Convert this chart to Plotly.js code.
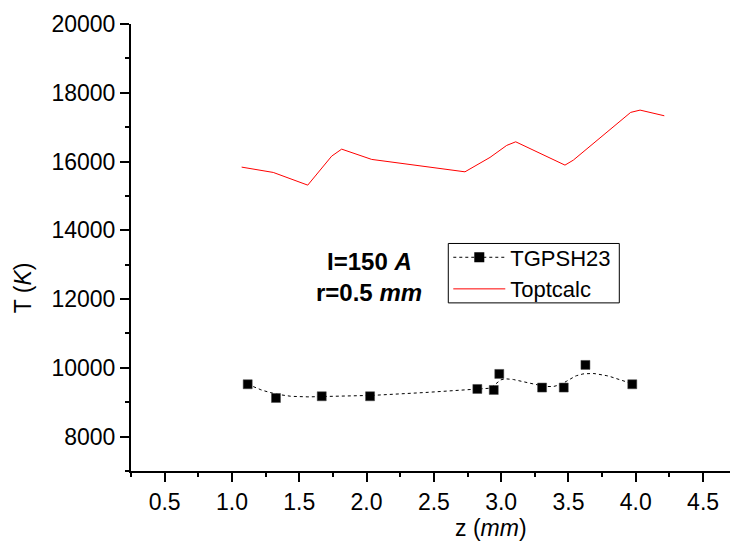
<!DOCTYPE html>
<html>
<head>
<meta charset="utf-8">
<script src="https://cdn.plot.ly/plotly-3.0.1.min.js"></script>
<style>html,body{margin:0;padding:0;background:#fff;}#chart{width:730px;height:545px;}</style>
</head>
<body>
<div id="chart"></div>
<script>
// Measured data: TGPSH23 (black squares)
const zMeas = [1.117, 1.327, 1.667, 2.026, 2.823, 2.945, 2.986, 3.304, 3.465, 3.626, 3.974];
const tMeas = [9523, 9124, 9174, 9174, 9386, 9357, 9823, 9427, 9427, 10085, 9523];
// Calculated: Toptcalc (red line)
const zCalc = [1.072, 1.307, 1.563, 1.741, 1.815, 2.038, 2.731, 2.917, 3.041, 3.108, 3.474, 3.536, 3.962, 4.032, 4.212];
const tCalc = [15838, 15683, 15314, 16158, 16361, 16062, 15701, 16120, 16469, 16574, 15896, 16041, 17429, 17496, 17331];
const xTicks = [0.5, 1.0, 1.5, 2.0, 2.5, 3.0, 3.5, 4.0, 4.5];
const xTickText = ["0.5", "1.0", "1.5", "2.0", "2.5", "3.0", "3.5", "4.0", "4.5"];

// Clamped cubic B-spline through the data as control points (Origin "B-spline" connect)
function bspline(xs, ys, samples) {
  const n = xs.length, p = 3, m = n - p;
  const U = [];
  for (let i = 0; i <= p; i++) U.push(0);
  for (let i = 1; i < m; i++) U.push(i);
  for (let i = 0; i <= p; i++) U.push(m);
  function N(i, k, t) {
    if (k === 0) return (U[i] <= t && t < U[i + 1]) ? 1 : 0;
    let a = 0, b = 0;
    const d1 = U[i + k] - U[i], d2 = U[i + k + 1] - U[i + 1];
    if (d1 > 0) a = (t - U[i]) / d1 * N(i, k - 1, t);
    if (d2 > 0) b = (U[i + k + 1] - t) / d2 * N(i + 1, k - 1, t);
    return a + b;
  }
  const ox = [], oy = [];
  for (let s = 0; s < samples; s++) {
    const t = s / samples * m;
    let sx = 0, sy = 0;
    for (let i = 0; i < n; i++) { const w = N(i, p, t); sx += w * xs[i]; sy += w * ys[i]; }
    ox.push(sx); oy.push(sy);
  }
  ox.push(xs[n - 1]); oy.push(ys[n - 1]);
  return [ox, oy];
}
const [sx, sy] = bspline(zMeas, tMeas, 300);

const FONT = "Liberation Sans, Arial, sans-serif";

const traces = [
  {x: sx, y: sy, mode: 'lines', line: {color: '#000', width: 1, dash: 'dot'}, showlegend: false, hoverinfo: 'skip'},
  {x: zMeas, y: tMeas, mode: 'markers', marker: {symbol: 'square', size: 9, color: '#000', line: {color: '#444', width: 0.5}}, showlegend: false},
  {x: [null], y: [null], mode: 'lines+markers', name: 'TGPSH23', line: {color: '#000', width: 1, dash: 'dot'}, marker: {symbol: 'square', size: 10, color: '#000'}},
  {x: zCalc, y: tCalc, mode: 'lines', name: 'Toptcalc', line: {color: '#ff0000', width: 1}}
];

const axisCommon = {
  showgrid: false, zeroline: false, showline: true, linecolor: '#000', linewidth: 2,
  ticks: 'outside', ticklen: 9, tickwidth: 2, tickcolor: '#000',
  tickfont: {family: FONT, size: 23, color: '#000'}
};

const layout = {
  width: 730, height: 545,
  margin: {l: 131, r: 0, t: 24, b: 74, pad: 0},
  paper_bgcolor: '#fff', plot_bgcolor: '#fff',
  font: {family: FONT, size: 22, color: '#000'},
  xaxis: Object.assign({}, axisCommon, {
    range: [0.25, 4.7], tickvals: xTicks, ticktext: xTickText,
    minor: {ticks: 'outside', ticklen: 4, tickwidth: 2, tickcolor: '#000', dtick: 0.25, tick0: 0.25, showgrid: false}
  }),
  yaxis: Object.assign({}, axisCommon, {
    range: [7000, 20000], tick0: 0, dtick: 2000, tickformat: 'd',
    minor: {ticks: 'outside', ticklen: 4, tickwidth: 2, tickcolor: '#000', dtick: 1000, tick0: 0, showgrid: false}
  }),
  showlegend: true,
  legend: {
    x: 0.5297, y: 0.4419, xanchor: 'left', yanchor: 'middle',
    bgcolor: 'rgba(0,0,0,0)', borderwidth: 0,
    font: {family: FONT, size: 22, color: '#000'}, itemwidth: 52, tracegroupgap: 0
  },
  shapes: [
    {type: 'rect', xref: 'paper', yref: 'paper', x0: 0.5297, x1: 0.8152, y0: 0.3761, y1: 0.509, line: {color: '#000', width: 1}, fillcolor: 'rgba(0,0,0,0)', layer: 'above'}
  ],
  annotations: [
    {xref: 'paper', yref: 'paper', x: 0.398, y: 0.4694, text: '<b>I=150 <i>A</i></b>', showarrow: false, xanchor: 'center', yanchor: 'middle', font: {family: FONT, size: 24, color: '#000'}},
    {xref: 'paper', yref: 'paper', x: 0.398, y: 0.3994, text: '<b>r=0.5 <i>mm</i></b>', showarrow: false, xanchor: 'center', yanchor: 'middle', font: {family: FONT, size: 24, color: '#000'}},
    {xref: 'paper', yref: 'paper', x: 0.601, y: 0, yshift: -57, text: 'z (<i>mm</i>)', showarrow: false, xanchor: 'center', yanchor: 'middle', font: {family: FONT, size: 23, color: '#000'}},
    {xref: 'paper', yref: 'paper', x: 0, xshift: -108, y: 0.409, text: 'T (<i>K</i>)', textangle: -90, showarrow: false, xanchor: 'center', yanchor: 'middle', font: {family: FONT, size: 23, color: '#000'}}
  ]
};

Plotly.newPlot('chart', traces, layout, {displayModeBar: false, staticPlot: true});
</script>
</body>
</html>
